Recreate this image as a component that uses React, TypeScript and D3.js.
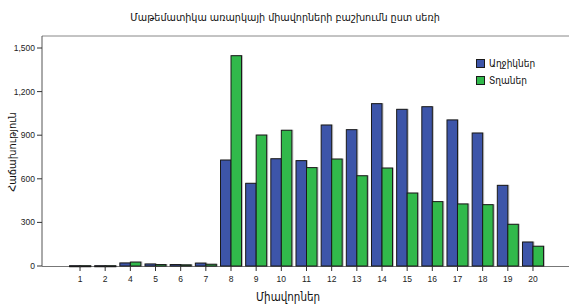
import React from 'react';
import * as d3 from 'd3';

const scores = ['1', '2', '4', '5', '6', '7', '8', '9', '10', '11', '12', '13', '14', '15', '16', '17', '18', '19', '20'];
const girls = [2, 2, 21, 14, 10, 20, 729, 569, 738, 725, 970, 938, 1117, 1078, 1096, 1005, 915, 555, 165];
const boys = [2, 2, 27, 10, 8, 12, 1447, 901, 934, 677, 736, 621, 674, 502, 443, 427, 422, 287, 136];
const seriesNames = ['Աղջիկներ', 'Տղաներ'];
const yTicks = [0, 300, 600, 900, 1200, 1500];

const colors = ['#3d55a9', '#31b94b'];
const W = 569;
const H = 307;
const left = 42;
const top = 36;
const bottom = 266;
const armFont = '"DejaVu Sans Condensed", "DejaVu Sans", sans-serif';
const tickFont = '"Liberation Sans Narrow", "Liberation Sans", Arial, sans-serif';

export default function App() {
  const x = d3.scaleBand().domain(scores).range([67.5, 545.5]).paddingInner(0.165).paddingOuter(0.08);
  const inner = d3.scaleBand().domain(seriesNames).range([0, x.bandwidth()]);
  const y = d3.scaleLinear().domain([0, 1500]).range([bottom, 48]);
  const series = [girls, boys];

  return (
    <svg width={W} height={H} style={{ position: 'absolute', left: 0, top: 0, background: '#fff' }}>
      <text x={285} y={21} textAnchor="middle" fontFamily={armFont} fontSize={10.7} fill="#111">
        Մաթեմատիկա առարկայի միավորների բաշխումն ըստ սեռի
      </text>
      {/* frame */}
      <line x1={left} x2={W} y1={top} y2={top} stroke="#888" />
      <line x1={left} x2={left} y1={top} y2={bottom} stroke="#555" />
      <line x1={left} x2={W} y1={bottom + 0.5} y2={bottom + 0.5} stroke="#777" />

      {yTicks.map(t => (
        <g key={t}>
          <line x1={left - 5} x2={left} y1={y(t)} y2={y(t)} stroke="#333" />
          <text x={left - 7} y={y(t) + 3} textAnchor="end" fontFamily={tickFont} fontSize={8.5} fill="#222">
            {d3.format(',')(t)}
          </text>
        </g>
      ))}

      {series.map((vals, si) =>
        vals.map((v, i) => (
          <rect
            key={si + '-' + i}
            x={(x(scores[i]) ?? 0) + (inner(seriesNames[si]) ?? 0)}
            y={y(v)}
            width={inner.bandwidth()}
            height={Math.max(bottom - y(v), 1)}
            fill={colors[si]}
            stroke="#1a1a1a"
            strokeWidth={1}
            style={{ filter: 'drop-shadow(1px 0px 0.5px rgba(0,0,0,0.25))' }}
          />
        ))
      )}

      {scores.map(s => {
        const cx = (x(s) ?? 0) + x.bandwidth() / 2;
        return (
          <g key={s}>
            <line x1={cx} x2={cx} y1={bottom} y2={bottom + 5} stroke="#333" />
            <text x={cx} y={bottom + 16} textAnchor="middle" fontFamily={tickFont} fontSize={8.5} fill="#222">
              {s}
            </text>
          </g>
        );
      })}

      <text x={288} y={301} textAnchor="middle" fontFamily={armFont} fontSize={11.5} fill="#111">
        Միավորներ
      </text>
      <text
        transform={`translate(16, 152) rotate(-90)`}
        textAnchor="middle"
        fontFamily={armFont}
        fontSize={11}
        fill="#111"
      >
        Հաճախություն
      </text>

      {seriesNames.map((n, i) => (
        <g key={n} transform={`translate(476, ${59 + i * 17})`}>
          <rect x={0.5} y={0.5} width={8} height={8} fill={colors[i]} stroke="#1a1a1a" />
          <text x={13} y={8} fontFamily={armFont} fontSize={10} fill="#111">
            {n}
          </text>
        </g>
      ))}
    </svg>
  );
}
